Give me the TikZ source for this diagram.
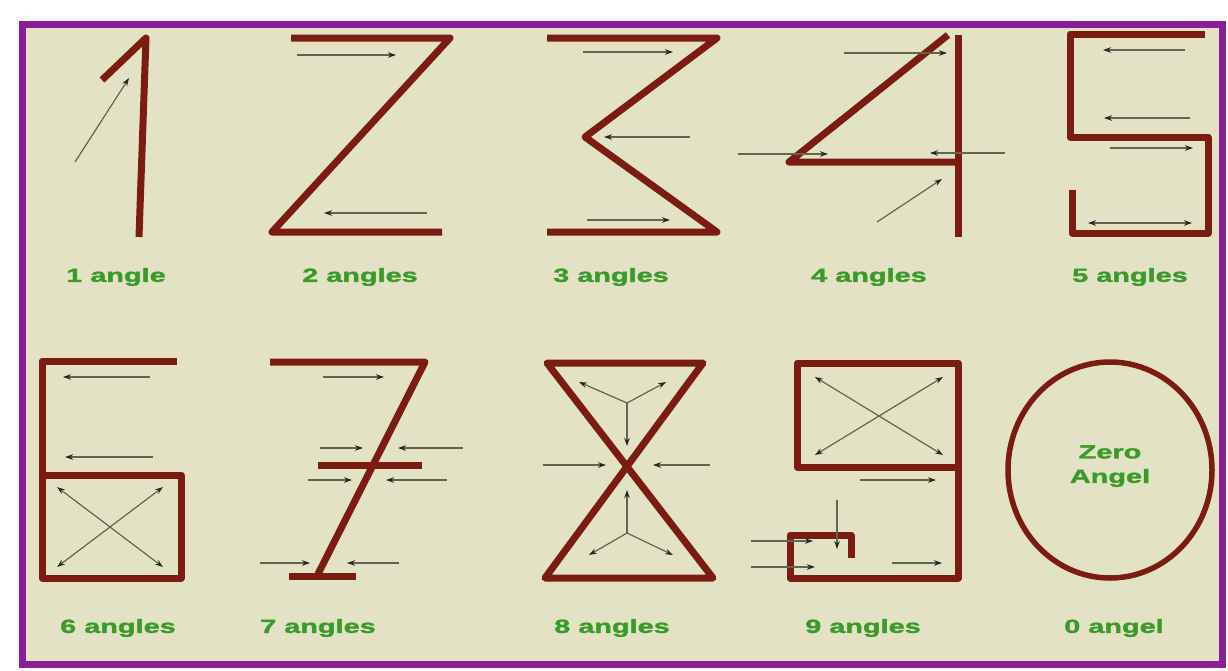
\documentclass[tikz,border=0pt]{standalone}
\usepackage{fontspec}
\usepackage{graphicx}
\setmainfont{Liberation Sans}
\newfontfamily\labelfont[BoldFeatures={FakeBold=1.4}]{Liberation Sans}
\usetikzlibrary{arrows.meta}
\definecolor{bgbeige}{HTML}{E4E2C4}
\definecolor{framepurple}{HTML}{8A1E96}
\definecolor{digitred}{HTML}{7A1C12}
\definecolor{arrowline}{HTML}{5E6650}
\definecolor{arrowhead}{HTML}{262622}
\definecolor{labelgreen}{HTML}{3A9A2C}
\tikzset{
  digit/.style={draw=digitred, line width=7pt, line join=round, line cap=butt},
  pointer/.style={draw=arrowline, line width=1.2pt, -{Stealth[length=8pt,width=5.5pt,color=arrowhead]}},
  dpointer/.style={draw=arrowline, line width=1.2pt, {Stealth[length=8pt,width=5.5pt,color=arrowhead]}-{Stealth[length=8pt,width=5.5pt,color=arrowhead]}},
  caption/.style={text=labelgreen, font=\labelfont\bfseries\fontsize{19}{21}\selectfont, inner sep=0pt},
}
\newcommand{\wide}[1]{\scalebox{1.52}[1]{#1}}
\begin{document}
\begin{tikzpicture}[x=1pt,y=-1pt]
\useasboundingbox (0,0) rectangle (1228,670);
\fill[white] (0,0) rectangle (1228,670);
\fill[bgbeige] (22,24) rectangle (1222,664);
\draw[framepurple, line width=7pt] (22,24) rectangle (1222,664);

% ---------- 1 ----------
\draw[digit] (102,80) -- (146,38) -- (139,237);
\draw[pointer] (75,162) -- (129,78);
\node[caption] (l1) at (116,277) {\wide{1 angle}};

% ---------- 2 ----------
\draw[digit] (291,38) -- (450,38) -- (272,232) -- (442,232);
\draw[pointer] (297,55) -- (396,55);
\draw[pointer] (427,213) -- (324,213);
\node[caption] (l2) at (360,277) {\wide{2 angles}};

% ---------- 3 ----------
\draw[digit] (547,38) -- (717,38) -- (585,137) -- (717,232) -- (547,232);
\draw[pointer] (583,52) -- (673,52);
\draw[pointer] (690,137) -- (604,137);
\draw[pointer] (587,220) -- (670,220);
\node[caption] (l3) at (611,277) {\wide{3 angles}};

% ---------- 4 ----------
\draw[digit] (948,35) -- (789,162) -- (958,162);
\draw[digit] (958,35) -- (958,237);
\draw[pointer] (844,53) -- (947,53);
\draw[pointer] (738,154) -- (828,154);
\draw[pointer] (1005,153) -- (930,153);
\draw[pointer] (877,222) -- (942,179);
\node[caption] (l4) at (869,277) {\wide{4 angles}};

% ---------- 5 ----------
\draw[digit] (1205,34) -- (1070,34) -- (1070,137) -- (1208,137) -- (1208,233) -- (1072,233) -- (1072,190);
\draw[pointer] (1185,50) -- (1103,50);
\draw[pointer] (1190,118) -- (1104,118);
\draw[pointer] (1110,148) -- (1193,148);
\draw[dpointer] (1088,223) -- (1192,223);
\node[caption] (l5) at (1130,277) {\wide{5 angles}};

% ---------- 6 ----------
\draw[digit] (177,361) -- (42,361) -- (42,578) -- (181,578) -- (181,475) -- (42,475);
\draw[pointer] (150,377) -- (63,377);
\draw[pointer] (153,457) -- (65,457);
\draw[dpointer] (57,487) -- (163,567);
\draw[dpointer] (57,567) -- (163,487);
\node[caption] (l6) at (118,628) {\wide{6 angles}};

% ---------- 7 ----------
\draw[digit] (270,362) -- (425,362) -- (318,574);
\draw[digit] (289,576) -- (356,576);
\draw[digit] (318,465) -- (422,465);
\draw[pointer] (323,377) -- (384,377);
\draw[pointer] (320,448) -- (363,448);
\draw[pointer] (463,448) -- (398,448);
\draw[pointer] (308,480) -- (352,480);
\draw[pointer] (447,480) -- (386,480);
\draw[pointer] (260,563) -- (310,563);
\draw[pointer] (399,563) -- (347,563);
\node[caption] (l7) at (318,628) {\wide{7 angles}};

% ---------- 8 ----------
\draw[digit] (547,363) -- (703,363) -- (545,578) -- (713,578) -- cycle;
\coordinate (ua) at (627,403);
\draw[pointer] (ua) -- (579,382);
\draw[pointer] (ua) -- (666,382);
\draw[pointer] (ua) -- (627,446);
\coordinate (lb) at (627,533);
\draw[pointer] (lb) -- (627,490);
\draw[pointer] (lb) -- (589,555);
\draw[pointer] (lb) -- (673,555);
\draw[pointer] (543,465) -- (606,465);
\draw[pointer] (710,465) -- (653,465);
\node[caption] (l8) at (612,628) {\wide{8 angles}};

% ---------- 9 ----------
\draw[digit] (797,363) rectangle (958,467);
\draw[digit] (958,363) -- (958,578) -- (790,578) -- (790,535) -- (851,535) -- (851,558);
\draw[dpointer] (815,377) -- (943,455);
\draw[dpointer] (815,455) -- (943,377);
\draw[pointer] (860,480) -- (936,480);
\draw[pointer] (892,563) -- (942,563);
\draw[pointer] (751,541) -- (813,541);
\draw[pointer] (751,567) -- (815,567);
\draw[pointer] (837,500) -- (837,549);
\node[caption] (l9) at (863,628) {\wide{9 angles}};

% ---------- 0 ----------
\draw[digitred, line width=5.5pt] (1110,470) ellipse [x radius=102, y radius=108];
\node[caption] (z1) at (1110,452) {\wide{Zero}};
\node[caption] (z2) at (1110,478) {\wide{Angel}};
\node[caption] (l0) at (1114,628) {\wide{0 angel}};
\end{tikzpicture}
\end{document}
